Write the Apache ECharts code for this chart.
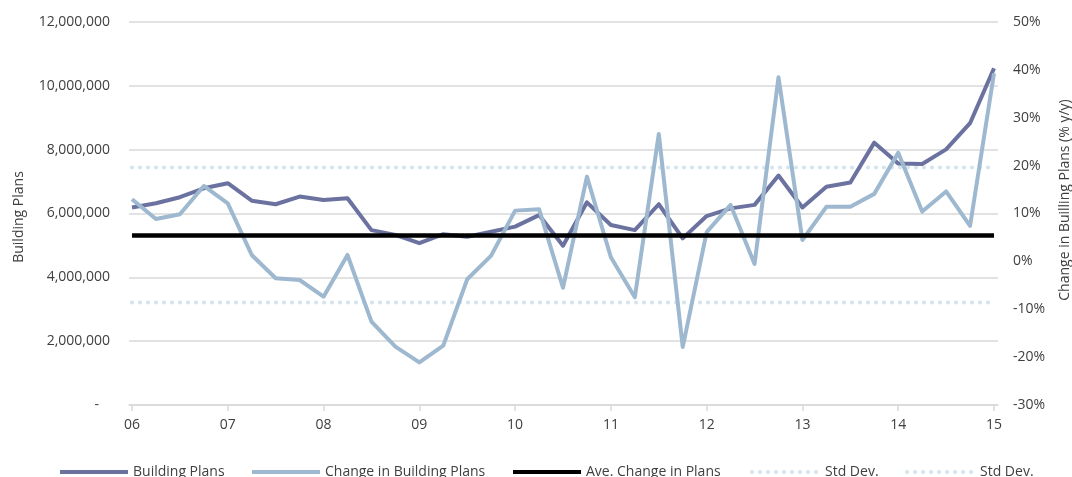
<!DOCTYPE html>
<html>
<head>
<meta charset="utf-8">
<script src="https://cdn.jsdelivr.net/npm/echarts@6/dist/echarts.min.js"></script>
<style>
  html, body { margin: 0; padding: 0; background: #ffffff; }
  #chart { width: 1072px; height: 477px; }
</style>
</head>
<body>
<div id="chart"></div>
<script>
// Quarterly observations, 2006 Q1 to 2015 Q1
const quarters = [
  '06Q1','06Q2','06Q3','06Q4','07Q1','07Q2','07Q3','07Q4',
  '08Q1','08Q2','08Q3','08Q4','09Q1','09Q2','09Q3','09Q4',
  '10Q1','10Q2','10Q3','10Q4','11Q1','11Q2','11Q3','11Q4',
  '12Q1','12Q2','12Q3','12Q4','13Q1','13Q2','13Q3','13Q4',
  '14Q1','14Q2','14Q3','14Q4','15Q1'
];

// Tick labels on the time axis (one per year)
const yearLabels = ['06','07','08','09','10','11','12','13','14','15'];

// Building plans passed (left axis)
const buildingPlans = [
  6190000, 6320000, 6510000, 6790000, 6950000, 6400000, 6290000, 6530000,
  6420000, 6480000, 5480000, 5330000, 5070000, 5350000, 5270000, 5430000,
  5590000, 5950000, 4990000, 6350000, 5640000, 5480000, 6290000, 5220000,
  5920000, 6160000, 6270000, 7190000, 6190000, 6840000, 6970000, 8220000,
  7570000, 7550000, 8010000, 8830000, 10550000
];

// Year-on-year change in building plans, % (right axis)
const changeInPlans = [
  12.97, 8.86, 9.83, 15.75, 12.1, 1.34, -3.53, -3.89,
  -7.37, 1.34, -12.6, -17.8, -21.1, -17.6, -3.74, 1.19,
  10.6, 10.9, -5.5, 17.7, 0.85, -7.5, 26.6, -17.9,
  6.1, 11.8, -0.54, 38.45, 4.47, 11.4, 11.4, 14.1,
  22.7, 10.4, 14.6, 7.4, 39.3
];

// Average change and one-standard-deviation band, % (right axis)
const aveChange = 5.4;
const stdDevUpper = 19.6;
const stdDevLower = -8.6;

// Legend entries, in drawing order
const legendNames = ['Building Plans', 'Change in Building Plans', 'Ave. Change in Plans', 'Std Dev. (+)', 'Std Dev. (-)'];

const FONT = '"Open Sans", "Noto Sans", sans-serif';
const TEXT = '#404040';

const xy = arr => arr.map((v, i) => [i, v]);
const lastIdx = quarters.length - 1;
const flat = v => [[0, v], [lastIdx, v]];
const yearTicks = yearLabels.map((_, k) => k * 4);

// One legend block per entry so each sits at its own horizontal slot
const legendLeft = [58, 250, 511, 750, 905];
const legends = legendNames.map((name, k) => ({
  bottom: -2,
  left: legendLeft[k],
  padding: 0,
  itemWidth: 68,
  itemHeight: 14,
  itemStyle: { opacity: 0 },
  lineStyle: { width: 4 },
  textStyle: { fontSize: 14, color: TEXT, fontFamily: FONT },
  formatter: n => n.replace(/ \(.\)$/, ''),
  data: [name]
}));

const chart = echarts.init(document.getElementById('chart'), null, { renderer: 'canvas' });

chart.setOption({
  animation: false,
  backgroundColor: '#ffffff',
  textStyle: { fontFamily: FONT, color: TEXT },
  grid: { left: 129, right: 74, top: 22, bottom: 72, containLabel: false, outerBoundsMode: 'none' },
  xAxis: {
    type: 'value',
    min: -0.125,
    max: lastIdx + 0.167,
    splitLine: { show: false },
    axisLine: { show: true, lineStyle: { color: '#d9d9d9', width: 1.5 } },
    axisTick: {
      show: true, length: 6, inside: false,
      customValues: yearTicks,
      lineStyle: { color: '#d9d9d9', width: 1.5 }
    },
    axisLabel: {
      customValues: yearTicks,
      margin: 13,
      fontSize: 14,
      color: TEXT,
      fontFamily: FONT,
      formatter: v => yearLabels[Math.round(v / 4)]
    }
  },
  yAxis: [
    {
      type: 'value',
      min: 0,
      max: 12000000,
      interval: 2000000,
      name: 'Building Plans',
      nameLocation: 'middle',
      nameRotate: 90,
      nameGap: 103,
      nameTextStyle: { fontSize: 14, color: TEXT, fontFamily: FONT, padding: [0, 7, 0, 0] },
      axisLine: { show: false },
      axisTick: { show: false },
      splitLine: { show: true, lineStyle: { color: '#d9d9d9', width: 1.5 } },
      axisLabel: {
        margin: 19,
        fontSize: 14,
        color: TEXT,
        fontFamily: FONT,
        formatter: v => v === 0 ? '-   ' : v.toLocaleString('en-US')
      }
    },
    {
      type: 'value',
      position: 'right',
      min: -30,
      max: 50,
      interval: 10,
      name: 'Change in Builling Plans (% y/y)',
      nameLocation: 'middle',
      nameRotate: 90,
      nameGap: 60,
      nameTextStyle: { fontSize: 14, color: TEXT, fontFamily: FONT, padding: [0, 0, 0, 27] },
      axisLine: { show: false },
      axisTick: { show: false },
      splitLine: { show: false },
      axisLabel: {
        margin: 15,
        fontSize: 14,
        color: TEXT,
        fontFamily: FONT,
        formatter: '{value}%'
      }
    }
  ],
  legend: legends,
  series: [
    {
      name: 'Building Plans',
      type: 'line',
      yAxisIndex: 0,
      data: xy(buildingPlans),
      symbol: 'none',
      lineStyle: { color: '#6b72a0', width: 4, join: 'round' },
      itemStyle: { color: '#6b72a0' },
      z: 2
    },
    {
      name: 'Change in Building Plans',
      type: 'line',
      yAxisIndex: 1,
      data: xy(changeInPlans),
      symbol: 'none',
      lineStyle: { color: '#9db8cf', width: 4, join: 'round' },
      itemStyle: { color: '#9db8cf' },
      z: 3
    },
    {
      name: 'Ave. Change in Plans',
      type: 'line',
      yAxisIndex: 1,
      data: flat(aveChange),
      symbol: 'none',
      lineStyle: { color: '#000000', width: 4.5 },
      itemStyle: { color: '#000000' },
      z: 4
    },
    {
      name: 'Std Dev. (+)',
      type: 'line',
      yAxisIndex: 1,
      data: flat(stdDevUpper),
      symbol: 'none',
      lineStyle: { color: '#d5e5ed', width: 4, type: [0.1, 7.9], cap: 'round' },
      itemStyle: { color: '#d5e5ed' },
      z: 1
    },
    {
      name: 'Std Dev. (-)',
      type: 'line',
      yAxisIndex: 1,
      data: flat(stdDevLower),
      symbol: 'none',
      lineStyle: { color: '#d5e5ed', width: 4, type: [0.1, 7.9], cap: 'round' },
      itemStyle: { color: '#d5e5ed' },
      z: 1
    }
  ]
});
</script>
</body>
</html>
